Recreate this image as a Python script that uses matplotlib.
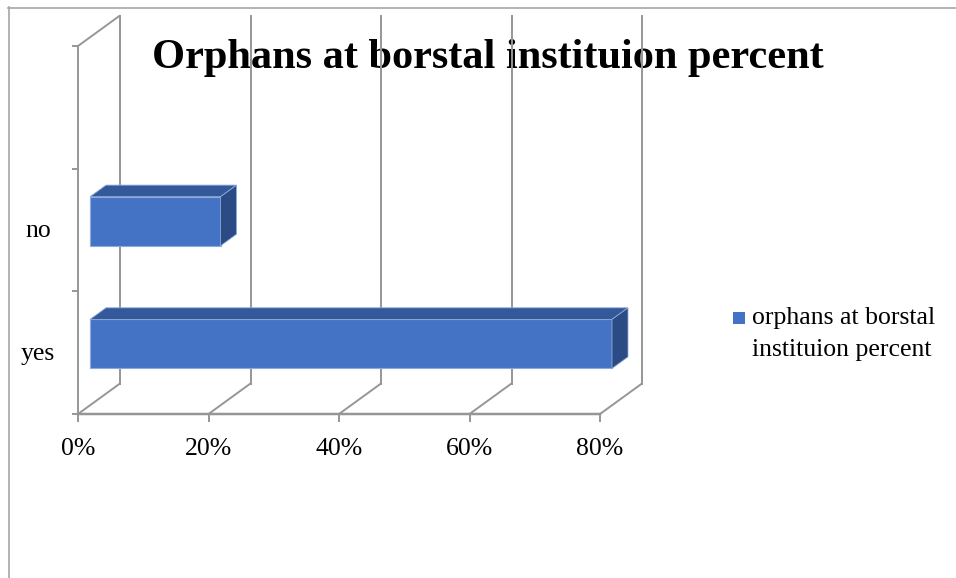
import matplotlib
matplotlib.use("Agg")
import matplotlib.pyplot as plt
from matplotlib.patches import Polygon, Rectangle
from matplotlib.lines import Line2D
from matplotlib.transforms import ScaledTranslation, IdentityTransform
import numpy as np

# Chart data
categories = ["yes", "no"]
values = [0.80, 0.20]
x_ticks = [0.0, 0.2, 0.4, 0.6, 0.8]
x_tick_labels = ["0%", "20%", "40%", "60%", "80%"]
series_name = "orphans at borstal instituion percent"
title = "Orphans at borstal instituion percent"

W, H, DPI = 956, 578, 100
plt.rcParams["font.family"] = ["Liberation Serif", "DejaVu Serif"]

fig = plt.figure(figsize=(W / DPI, H / DPI), dpi=DPI)
fig.patch.set_facecolor("white")

# title sits beneath the gridlines
fig.text(488 / W, (H - 68) / H, title, ha="center", va="baseline",
         fontsize=30.5, fontweight="bold", color="black", zorder=-1)

# Front frame of the 3D box in pixels (top-origin): x 78..600, y 46..414
left_px, right_px, top_px, bot_px = 78, 600, 46, 414
ax = fig.add_axes([left_px / W, (H - bot_px) / H,
                   (right_px - left_px) / W, (bot_px - top_px) / H])
ax.set_xlim(0, 0.8)
ax.set_ylim(-0.5, 2.5)
ax.axis("off")
ax.patch.set_alpha(0)

# depth vector (display pixels) from the front plane to the back wall
DEPTH = np.array([42.0, 30.5])
grid_col = "#969696"
grid_lw = 1.4


def depth_tf(d):
    return ax.transData + ScaledTranslation(d * DEPTH[0] / DPI, d * DEPTH[1] / DPI,
                                            fig.dpi_scale_trans)


def pt(x, y, d):
    return ax.transData.transform((x, y)) + d * DEPTH


def seg(p0, p1, **kw):
    ln = Line2D([p0[0], p1[0]], [p0[1], p1[1]], transform=IdentityTransform(),
                color=grid_col, lw=grid_lw, clip_on=False, solid_capstyle="butt", **kw)
    fig.add_artist(ln)


y0, y1 = ax.get_ylim()

# back wall gridlines
for xv in x_ticks:
    ax.plot([xv, xv], [y0, y1], transform=depth_tf(1.0), color=grid_col,
            lw=grid_lw, clip_on=False, zorder=3)
    # floor diagonals
    seg(pt(xv, y0, 0), pt(xv, y0, 1), zorder=3)

# left wall front edge and top diagonal
ax.plot([0, 0], [y0, y1], color=grid_col, lw=grid_lw, clip_on=False, zorder=3)
seg(pt(0, y1, 0), pt(0, y1, 1), zorder=3)

# front floor line (x axis) with ticks
ax.plot([0, 0.8], [y0, y0], color=grid_col, lw=grid_lw + 0.4, clip_on=False, zorder=3)
for xv, lab in zip(x_ticks, x_tick_labels):
    p = pt(xv, y0, 0)
    seg(p, p + np.array([0, -8]), zorder=3)
    fig.text(p[0] / W, (H - 455) / H, lab, ha="center", va="baseline",
             fontsize=18.5, color="black")

# y axis ticks
for yv in [-0.5, 0.5, 1.5, 2.5]:
    p = pt(0, yv, 0)
    seg(p, p + np.array([-6, 0]), zorder=3)

# category labels
for i, cat in enumerate(categories):
    p = pt(0, i, 0)
    fig.text(38 / W, (p[1] - 7) / H, cat, ha="center", va="baseline",
             fontsize=18.5, color="black")

# 3D bars
bar_h = 0.40
f0, f1 = 12 / 42, 28 / 42
front_col, top_col, side_col = "#4472C4", "#34599B", "#2B4B85"
edge_col = "#8EAADB"
ypos = np.arange(len(categories))
ax.barh(ypos, values, height=bar_h, color=front_col, edgecolor=edge_col,
        linewidth=0.8, transform=depth_tf(f0), zorder=5, clip_on=False)
for yi, v in zip(ypos, values):
    top = [pt(0, yi + bar_h / 2, f0), pt(v, yi + bar_h / 2, f0),
           pt(v, yi + bar_h / 2, f1), pt(0, yi + bar_h / 2, f1)]
    side = [pt(v, yi - bar_h / 2, f0), pt(v, yi + bar_h / 2, f0),
            pt(v, yi + bar_h / 2, f1), pt(v, yi - bar_h / 2, f1)]
    fig.add_artist(Polygon(top, closed=True, transform=IdentityTransform(),
                           facecolor=top_col, edgecolor=edge_col, lw=0.6, zorder=4))
    fig.add_artist(Polygon(side, closed=True, transform=IdentityTransform(),
                           facecolor=side_col, edgecolor=edge_col, lw=0.6, zorder=4))

# legend
fig.add_artist(Rectangle((733, H - 324), 12, 12, transform=IdentityTransform(),
                         facecolor=front_col, edgecolor="none"))
words = series_name.split()
legend_lines = [" ".join(words[:3]), " ".join(words[3:])]
for k, line in enumerate(legend_lines):
    fig.text(752 / W, (H - 324 - 32 * k) / H, line, ha="left", va="baseline",
             fontsize=18.5, color="black")

# chart area border (left and top edges)
fig.add_artist(Line2D([8.5, 8.5], [0, H - 7], transform=IdentityTransform(),
                      color="#a6a6a6", lw=1.2))
fig.add_artist(Line2D([8, W], [H - 7.5, H - 7.5], transform=IdentityTransform(),
                      color="#a6a6a6", lw=1.2))

fig.savefig("out.png", dpi=DPI, facecolor="white")
